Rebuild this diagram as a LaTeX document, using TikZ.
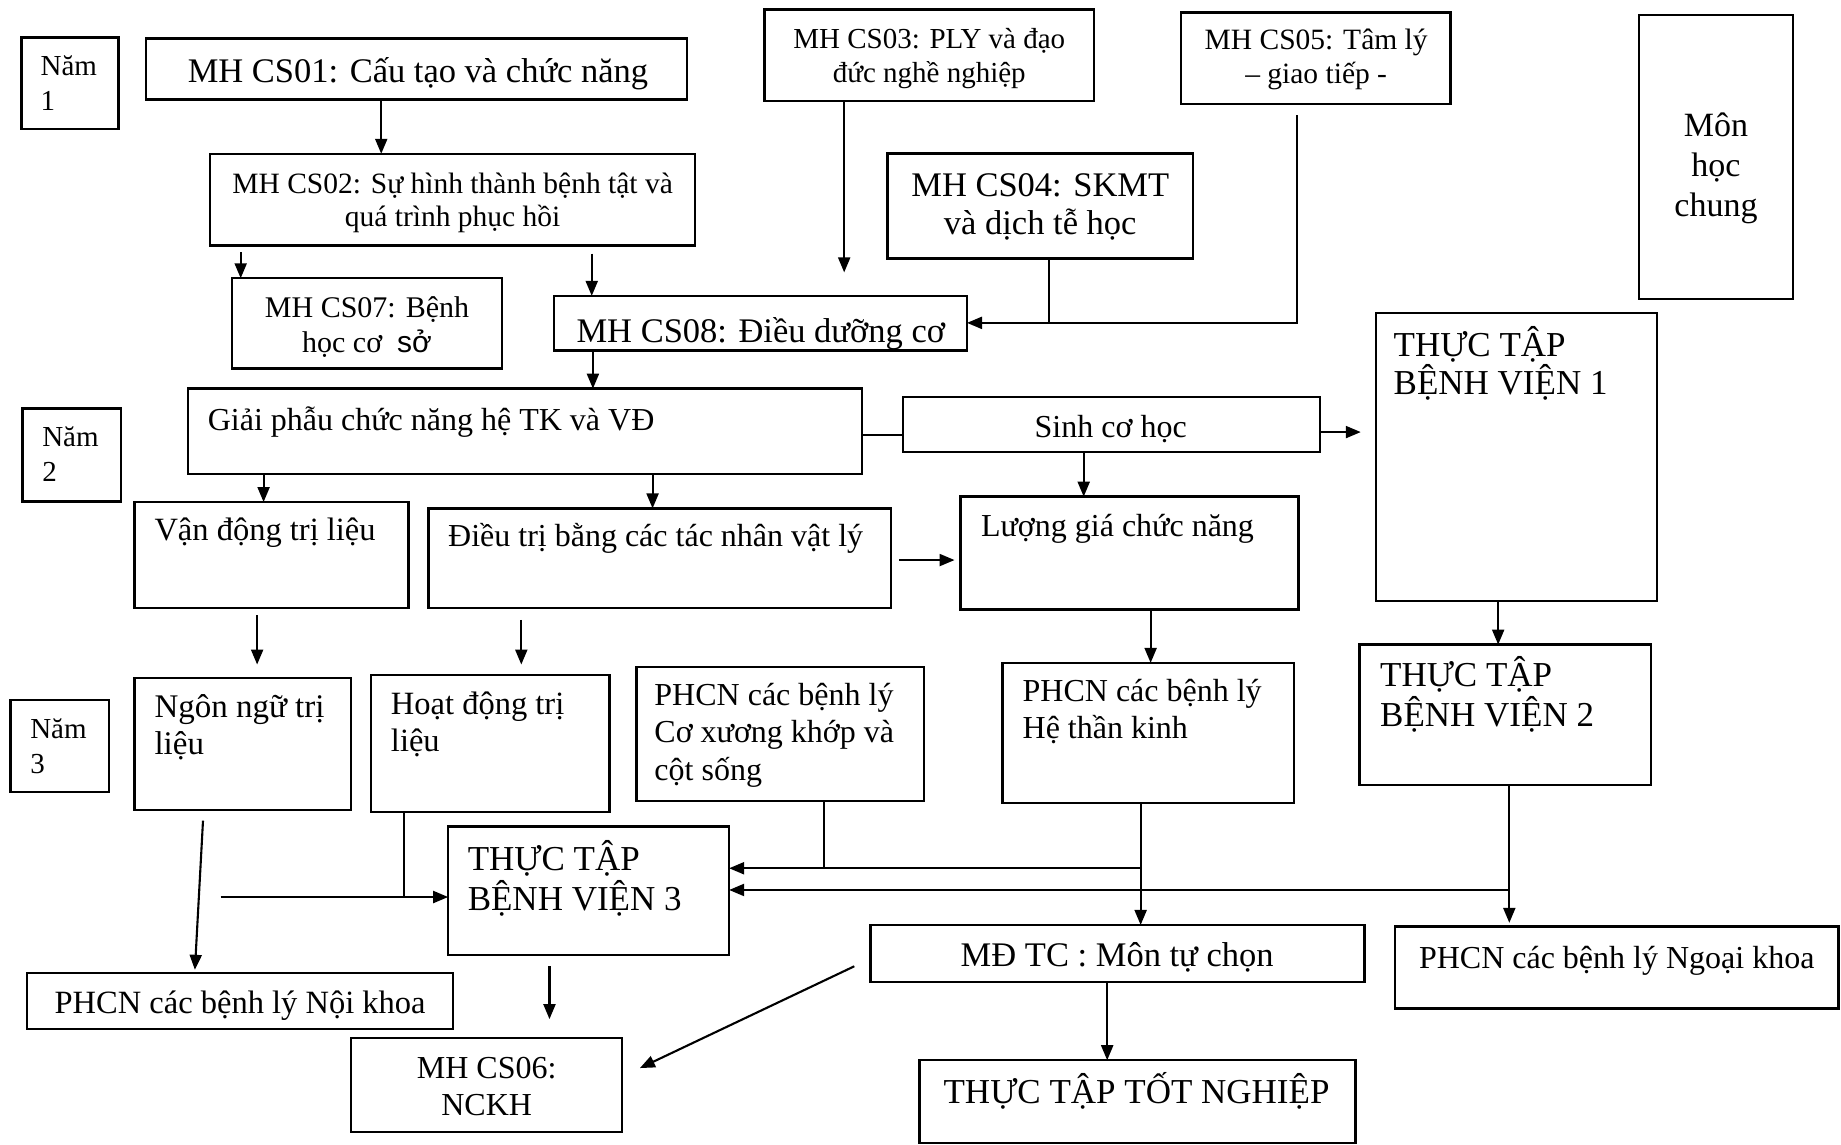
\documentclass[tikz,border=0pt]{standalone}
\usepackage{fontspec}
\setmainfont{Liberation Serif}
\newfontfamily\sansf{Liberation Sans}
\usetikzlibrary{arrows.meta,fit,calc}
\newcommand\fsz[2]{\fontsize{#1}{#2}\selectfont}
\begin{document}
\begin{tikzpicture}[x=1.1741pt,y=-1.1741pt,
 box/.style={draw, line width=2.4pt, inner sep=0pt, outer sep=0pt},
 ln/.style={line width=2.1pt},
 arr/.style={line width=2.1pt, -{Triangle[length=15pt,width=12pt]}},
 tx/.style={inner sep=0pt, outer sep=0pt},
 txc/.style={tx, align=center, anchor=base},
 txl/.style={tx, align=left, anchor=base west}]
\useasboundingbox[fill=white] (0,0) rectangle (1568,975);

% ---------- boxes ----------
\node[box, fit={(18.3,31.8) (101,110)}] (n1) {};
\node[box, fit={(124.3,32.7) (585,84.6)}] (cs01) {};
\node[box, fit={(651,8) (932,86)}] (cs03) {};
\node[box, fit={(1006,10.8) (1235.5,88.6)}] (cs05) {};
\node[box, fit={(1396,12.8) (1527,254.7)}] (mhc) {};
\node[box, fit={(179,131) (592,209)}] (cs02) {};
\node[box, fit={(756,130.6) (1016,220)}] (cs04) {};
\node[box, fit={(197.6,237) (427.7,314)}] (cs07) {};
\node[box, fit={(472,252) (823.6,298.5)}] (cs08) {};
\node[box, fit={(1172,266.8) (1411.5,512)}] (bv1) {};
\node[box, fit={(19,348) (103,427)}] (n2) {};
\node[box, fit={(160,331) (734,403.5)}] (gp) {};
\node[box, fit={(769,338) (1124,385)}] (sch) {};
\node[box, fit={(114.6,427.6) (348,518)}] (vd) {};
\node[box, fit={(365,433) (759,518)}] (dt) {};
\node[box, fit={(818,423) (1106,519)}] (lg) {};
\node[box, fit={(1158,549) (1406,668.6)}] (bv2) {};
\node[box, fit={(9,596) (93,674.6)}] (n3) {};
\node[box, fit={(114.6,577.7) (299,690)}] (nn) {};
\node[box, fit={(316,575) (519,691.7)}] (hd) {};
\node[box, fit={(542,568) (787,682)}] (pcx) {};
\node[box, fit={(854,564.6) (1102,684)}] (ptk) {};
\node[box, fit={(381.7,704) (621,813.4)}] (bv3) {};
\node[box, fit={(741.5,787.8) (1162,836.5)}] (mdtc) {};
\node[box, fit={(1188,789) (1566,859)}] (ngoai) {};
\node[box, fit={(23,828.7) (386,876.6)}] (noi) {};
\node[box, fit={(299,884) (530,963.9)}] (cs06) {};
\node[box, fit={(783,903) (1154.6,973.5)}] (tn) {};

% ---------- texts ----------
\node[txl, font=\fsz{29}{35}] (t-n1) at (34.6,93.7) {Năm\\1};
\node[txc, font=\fsz{34.5}{40}] (t-cs01) at (356,70) {MH CS01: Cấu tạo và chức năng};
\node[txc, font=\fsz{29}{34}] (t-cs03) at (791.5,70) {MH CS03: PLY và đạo\\đức nghề nghiệp};
\node[txc, font=\fsz{29.5}{34}] (t-cs05) at (1121,71) {MH CS05: Tâm lý\\– giao tiếp -};
\node[txc, font=\fsz{34}{40}] (t-mhc) at (1461.5,184.5) {Môn\\học\\chung};
\node[txc, font=\fsz{29.5}{33.5}] (t-cs02) at (385.5,193) {MH CS02: Sự hình thành bệnh tật và\\quá trình phục hồi};
\node[txc, font=\fsz{34.5}{38.5}] (t-cs04) at (886,200) {MH CS04: SKMT\\và dịch tễ học};
\node[txc, font=\fsz{30}{35}] (t-cs07) at (312.6,300) {MH CS07: Bệnh\\học cơ\ \ {\sansf sở}};
\begin{scope}
\clip (472,252) rectangle (823.6,298.5);
\node[txc, font=\fsz{34.5}{40}] (t-cs08) at (648,292) {MH CS08: Điều dưỡng cơ};
\end{scope}
\node[txl, font=\fsz{35}{38}] (t-bv1) at (1187,336) {THỰC TẬP\\BỆNH VIỆN 1};
\node[txl, font=\fsz{29}{35}] (t-n2) at (36,410) {Năm\\2};
\node[txl, font=\fsz{32}{37}] (t-gp) at (177,366.5) {Giải phẫu chức năng hệ TK và VĐ};
\node[txc, font=\fsz{32}{37}] (t-sch) at (946,373) {Sinh cơ học};
\node[txl, font=\fsz{32.5}{37}] (t-vd) at (131.6,460) {Vận động trị liệu};
\node[txl, font=\fsz{32}{37}] (t-dt) at (381.7,465.6) {Điều trị bằng các tác nhân vật lý};
\node[txl, font=\fsz{32}{37}] (t-lg) at (835.6,457) {Lượng giá chức năng};
\node[txl, font=\fsz{35}{40}] (t-bv2) at (1175.5,619) {THỰC TẬP\\BỆNH VIỆN 2};
\node[txl, font=\fsz{29}{35}] (t-n3) at (25.8,658.5) {Năm\\3};
\node[txl, font=\fsz{33}{37}] (t-nn) at (131.6,643) {Ngôn ngữ trị\\liệu};
\node[txl, font=\fsz{32.5}{37}] (t-hd) at (333,640) {Hoạt động trị\\liệu};
\node[txl, font=\fsz{32}{37.5}] (t-pcx) at (557.4,664.4) {PHCN các bệnh lý\\Cơ xương khớp và\\cột sống};
\node[txl, font=\fsz{32}{37}] (t-ptk) at (871,628.8) {PHCN các bệnh lý\\Hệ thần kinh};
\node[txl, font=\fsz{35}{40}] (t-bv3) at (398.4,775.6) {THỰC TẬP\\BỆNH VIỆN 3};
\node[txc, font=\fsz{34.5}{40}] (t-mdtc) at (951.5,823.3) {MĐ TC : Môn tự chọn};
\node[txc, font=\fsz{32}{37}] (t-ngoai) at (1377,824.5) {PHCN các bệnh lý Ngoại khoa};
\node[txc, font=\fsz{32.5}{37}] (t-noi) at (204.5,863) {PHCN các bệnh lý Nội khoa};
\node[txc, font=\fsz{32}{37}] (t-cs06) at (414.5,949.7) {MH CS06:\\NCKH};
\node[txc, font=\fsz{35}{40}] (t-tn) at (968,939.6) {THỰC TẬP TỐT NGHIỆP};

% ---------- free ends ----------
\coordinate (s2) at (205,215);
\coordinate (s3) at (504,216);
\coordinate (e4) at (719,232);
\coordinate (j5) at (893.5,274);
\coordinate (s6) at (1105,98);
\coordinate (e9) at (1159,368);
\coordinate (s12) at (766,477);
\coordinate (e12) at (813,477);
\coordinate (s14) at (219,524);
\coordinate (e14) at (219,566);
\coordinate (s15) at (444,528);
\coordinate (e15) at (444,566);
\coordinate (s18) at (172.9,699);
\coordinate (e18) at (166,826);
\coordinate (s19) at (188,764);
\coordinate (j19) at (344,764);
\coordinate (j20) at (702,739.5);
\coordinate (j21) at (971.5,739.5);
\coordinate (j24) at (1285.5,758);
\coordinate (e23) at (1285.5,786);
\coordinate (s25) at (468,823);
\coordinate (e25) at (468,868);
\coordinate (s26) at (727.6,823);
\coordinate (e26) at (545,909.7);

% ---------- connectors ----------
\draw[arr] (324.7,0 |- cs01.south) -- (324.7,0 |- cs02.north);
\draw[arr] (s2) -- (s2 |- cs07.north);
\draw[arr] (s3) -- (s3 |- cs08.north);
\draw[arr] (e4 |- cs03.south) -- (e4);
\draw[ln] (j5 |- cs04.south) -- (j5);
\draw[arr] (s6) |- (cs08.east |- 0,275);
\draw[arr] (505,0 |- cs08.south) -- (505,0 |- gp.north);
\draw[ln] (gp.east |- 0,370.5) -- (sch.west |- 0,370.5);
\draw[arr] (sch.east |- e9) -- (e9);
\draw[arr] (224.5,0 |- gp.south) -- (224.5,0 |- vd.north);
\draw[arr] (555.8,0 |- gp.south) -- (555.8,0 |- dt.north);
\draw[arr] (s12) -- (e12);
\draw[arr] (923,0 |- sch.south) -- (923,0 |- lg.north);
\draw[arr] (s14) -- (e14);
\draw[arr] (s15) -- (e15);
\draw[arr] (980,0 |- lg.south) -- (980,0 |- ptk.north);
\draw[arr] (1276,0 |- bv1.south) -- (1276,0 |- bv2.north);
\draw[arr] (s18) -- (e18);
\draw[ln] (j19 |- hd.south) -- (j19);
\draw[arr] (s19) -- (bv3.west |- s19);
\draw[ln] (j20 |- pcx.south) -- (j20);
\draw[arr] (j21) -- (bv3.east |- j21);
\draw[arr] (971.5,0 |- ptk.south) -- (971.5,0 |- mdtc.north);
\draw[arr] (e23 |- bv2.south) -- (e23);
\draw[arr] (j24) -- (bv3.east |- j24);
\draw[arr] (s25) -- (e25);
\draw[arr] (s26) -- (e26);
\draw[arr] (943,0 |- mdtc.south) -- (943,0 |- tn.north);
\end{tikzpicture}
\end{document}
